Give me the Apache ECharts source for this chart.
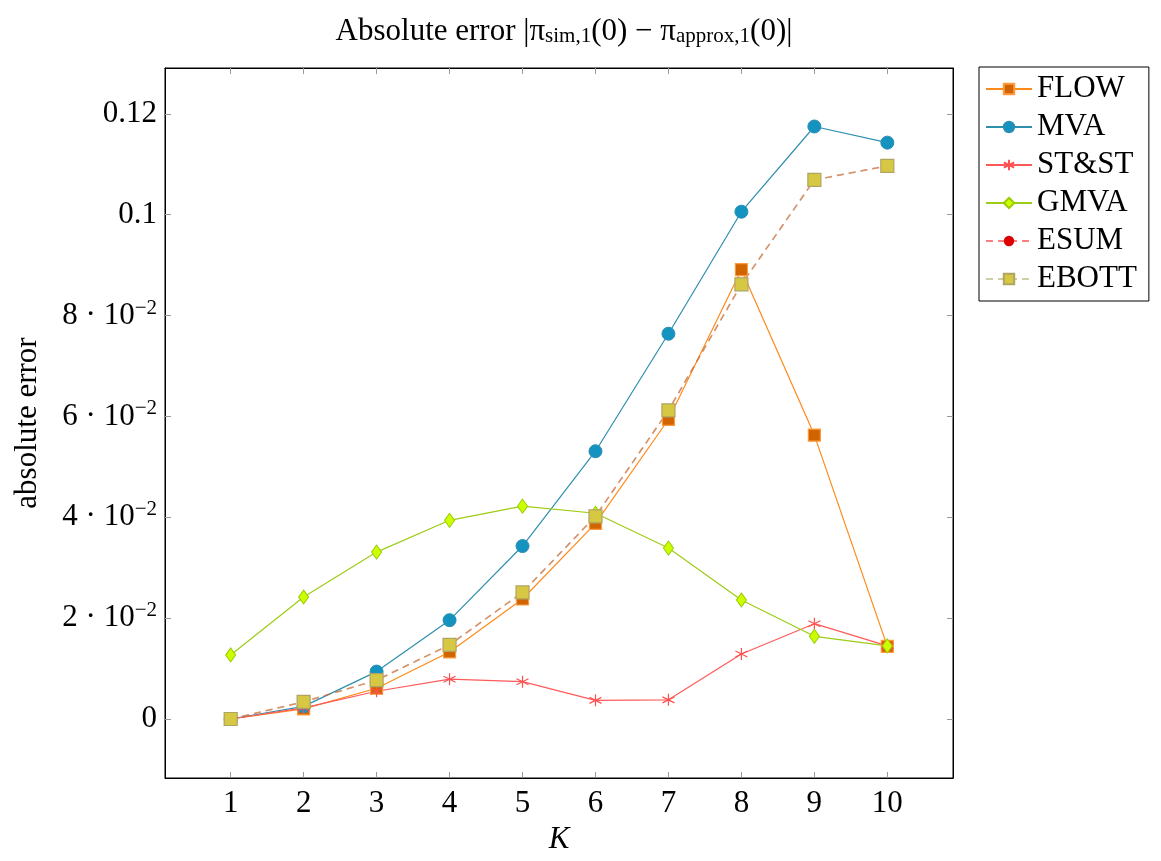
<!DOCTYPE html>
<html>
<head>
<meta charset="utf-8">
<script src="https://cdn.jsdelivr.net/npm/echarts@6/dist/echarts.min.js"></script>
<style>
  html, body { margin: 0; padding: 0; background: #fff; }
  #chart { width: 1161px; height: 861px; }
</style>
</head>
<body>
<div id="chart"></div>
<script>
// K values on the x axis
var kValues = [1, 2, 3, 4, 5, 6, 7, 8, 9, 10];
var yTicks = [0, 0.02, 0.04, 0.06, 0.08, 0.1, 0.12];

var flow  = [0, 0.0020, 0.0061, 0.0133, 0.0238, 0.0388, 0.0594, 0.0891, 0.0563, 0.0144];
var mva   = [0, 0.0025, 0.0094, 0.0196, 0.0343, 0.0531, 0.0764, 0.1006, 0.1175, 0.1143];
var stst  = [0, 0.0022, 0.0055, 0.0079, 0.0074, 0.0037, 0.0038, 0.0129, 0.0189, 0.0145];
var gmva  = [0.0127, 0.0242, 0.0331, 0.0394, 0.0422, 0.0408, 0.0339, 0.0236, 0.0164, 0.0145];
var esum  = [0, 0.0034, 0.0077, 0.0147, 0.0251, 0.0402, 0.0612, 0.0862, 0.1069, 0.1097];
var ebott = [0, 0.0034, 0.0077, 0.0147, 0.0251, 0.0402, 0.0612, 0.0862, 0.1069, 0.1097];

var serif = 'Liberation Serif';
var fs = 31;
var asterisk = 'path://M0,-6L0,6M-5.2,-3L5.2,3M-5.2,3L5.2,-3';

function pairs(arr) {
  return arr.map(function (v, i) { return [kValues[i], v]; });
}

function yLabel(v) {
  if (v === 0) return '0';
  if (v >= 0.1) return String(Math.round(v * 100) / 100);
  return '{a|' + Math.round(v * 100) + ' · 10}{e|−2}';
}

var chart = echarts.init(document.getElementById('chart'));

var option = {
  backgroundColor: '#fff',
  animation: false,
  title: {
    text: '{n|Absolute error |π}{s|sim,1}{n|(0) − π}{s|approx,1}{n|(0)|}',
    left: 559,
    top: 6,
    textAlign: 'center',
    textStyle: {
      fontWeight: 'normal',
      rich: {
        n: { fontFamily: serif, fontSize: fs, fontWeight: 'normal', color: '#000', verticalAlign: 'bottom', lineHeight: 36 },
        s: { fontFamily: serif, fontSize: 21, fontWeight: 'normal', color: '#000', verticalAlign: 'bottom', lineHeight: 30 }
      }
    }
  },
  legend: {
    orient: 'vertical',
    left: 979,
    top: 67,
    padding: [6, 12, 6, 6],
    itemGap: 6,
    itemWidth: 46,
    itemHeight: 13,
    borderColor: '#000',
    borderWidth: 1,
    textStyle: { fontFamily: serif, fontSize: fs, color: '#000', lineHeight: 32 },
    data: ['FLOW', 'MVA', 'ST&ST', 'GMVA', 'ESUM', 'EBOTT']
  },
  grid: {
    left: 165, right: 208, top: 68, bottom: 83,
    show: true, borderColor: '#000', borderWidth: 1
  },
  xAxis: [{
    type: 'value',
    min: 0.1, max: 10.9,
    name: 'K',
    nameLocation: 'middle',
    nameGap: 46,
    nameTextStyle: { fontFamily: serif, fontSize: fs, fontStyle: 'italic', color: '#000' },
    axisLine: { show: true, onZero: false, lineStyle: { color: '#000' } },
    axisTick: { show: true, inside: true, length: 6, lineStyle: { color: '#999' }, customValues: kValues },
    axisLabel: { fontFamily: serif, fontSize: fs, color: '#000', margin: 10, customValues: kValues },
    splitLine: { show: false }
  }, {
    type: 'value',
    position: 'top',
    min: 0.1, max: 10.9,
    axisLine: { show: true, onZero: false, lineStyle: { color: '#000' } },
    axisTick: { show: true, inside: true, length: 6, lineStyle: { color: '#999' }, customValues: kValues },
    axisLabel: { show: false },
    splitLine: { show: false }
  }],
  yAxis: [{
    type: 'value',
    min: -0.0117, max: 0.1291,
    name: 'absolute error',
    nameLocation: 'middle',
    nameGap: 122,
    nameTextStyle: { fontFamily: serif, fontSize: fs, color: '#000' },
    axisLine: { show: true, onZero: false, lineStyle: { color: '#000' } },
    axisTick: { show: true, inside: true, length: 6, lineStyle: { color: '#999' }, customValues: yTicks },
    axisLabel: {
      fontFamily: serif, fontSize: fs, color: '#000', margin: 8,
      customValues: yTicks,
      formatter: yLabel,
      rich: {
        a: { fontFamily: serif, fontSize: fs, color: '#000' },
        e: { fontFamily: serif, fontSize: 21, color: '#000', padding: [0, 0, 15, 0] }
      }
    },
    splitLine: { show: false }
  }, {
    type: 'value',
    position: 'right',
    min: -0.0117, max: 0.1291,
    axisLine: { show: true, onZero: false, lineStyle: { color: '#000' } },
    axisTick: { show: true, inside: true, length: 6, lineStyle: { color: '#999' }, customValues: yTicks },
    axisLabel: { show: false },
    splitLine: { show: false }
  }],
  series: [
    {
      name: 'FLOW', type: 'line', data: pairs(flow),
      symbol: 'rect', symbolSize: 12,
      lineStyle: { color: '#ff8a1c', width: 1.2 },
      itemStyle: { color: '#d06400', borderColor: '#ff9a3c', borderWidth: 1.2 }
    },
    {
      name: 'MVA', type: 'line', data: pairs(mva),
      symbol: 'circle', symbolSize: 13,
      lineStyle: { color: '#2e8fae', width: 1.2 },
      itemStyle: { color: '#1593c0', borderColor: '#2a8fb2', borderWidth: 1 }
    },
    {
      name: 'ST&ST', type: 'line', data: pairs(stst),
      symbol: asterisk, symbolSize: 12,
      lineStyle: { color: '#ff5a5a', width: 1.2 },
      itemStyle: { color: 'transparent', borderColor: '#ff5050', borderWidth: 1.2 }
    },
    {
      name: 'GMVA', type: 'line', data: pairs(gmva),
      symbol: 'diamond', symbolSize: [10, 14],
      lineStyle: { color: '#9ccc14', width: 1.2 },
      itemStyle: { color: '#ccff00', borderColor: '#99cc00', borderWidth: 1 }
    },
    {
      name: 'ESUM', type: 'line', data: pairs(esum),
      symbol: 'circle', symbolSize: 11,
      lineStyle: { color: '#ff0000', width: 1.5, type: [7, 5], opacity: 0.5 },
      itemStyle: { color: '#dd0000', borderColor: '#dd0000' }
    },
    {
      name: 'EBOTT', type: 'line', data: pairs(ebott),
      symbol: 'rect', symbolSize: 13,
      lineStyle: { color: '#a8a858', width: 1.5, type: [7, 5], opacity: 0.55 },
      itemStyle: { color: '#d6c842', borderColor: '#b0a464', borderWidth: 1.2 }
    }
  ]
};

chart.setOption(option);
</script>
</body>
</html>
